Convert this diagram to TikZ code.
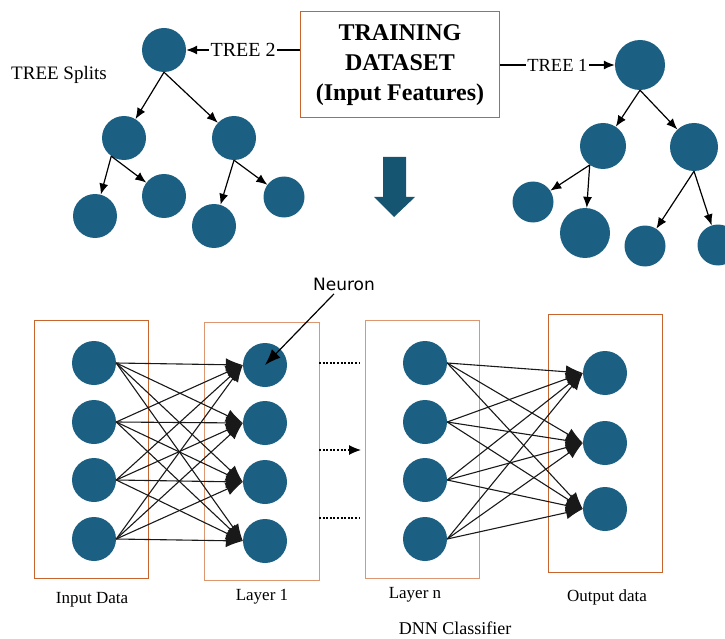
\documentclass[tikz,border=0pt]{standalone}
\usepackage{fontspec}
\setmainfont{Liberation Serif}
\newfontfamily\neuronfont{DejaVu Sans}
\usepackage{xcolor}
\usepackage{tikz}
\usetikzlibrary{arrows.meta, positioning}

\definecolor{nodeblue}{HTML}{1B6082}
\definecolor{arrowblue}{HTML}{165571}
\definecolor{boxorange}{HTML}{C8642E}
\definecolor{boxlight}{HTML}{DC9670}

\begin{document}
\begin{tikzpicture}[x=1pt, y=-1pt, >={Latex[length=11pt,width=9pt]},
    neuron/.style={circle, fill=nodeblue, inner sep=0pt, minimum size=#1},
    neuron/.default=44pt,
    treeline/.style={->, line width=1.2pt},
    conn/.style={-{Latex[length=17pt,width=13pt]}, line width=1.1pt, black!90},
    lbl/.style={font=\fontsize{17}{20}\selectfont},
    dotline/.style={dash pattern=on 2pt off 1.6pt, line width=1.2pt}]
    \useasboundingbox (0,0) rectangle (725,639);

    % Tập dữ liệu huấn luyện
    \node[draw=boxorange, line width=1pt, minimum width=199pt, minimum height=106pt,
          align=center, font=\bfseries\fontsize{24}{30}\selectfont] (data) at (400,65)
          {TRAINING\\DATASET\\(Input Features)};

    % Cây 2 (bên trái)
    \node[neuron] (t2r) at (164,50) {};
    \node[neuron] (t2a) at (124,138) {};
    \node[neuron] (t2b) at (234,138) {};
    \node[neuron] (t2c) at (95,216) {};
    \node[neuron] (t2d) at (164,196) {};
    \node[neuron] (t2e) at (214,226) {};
    \node[neuron=41pt] (t2f) at (284,197) {};
    \draw[treeline] (t2r.south) -- (t2a);
    \draw[treeline] (t2r.south) -- (t2b);
    \draw[treeline] (t2a.-125) -- (t2c);
    \draw[treeline] (t2a.-125) -- (t2d);
    \draw[treeline] (t2b.south) -- (t2e);
    \draw[treeline] (t2b.south) -- (t2f);
    \node[lbl, font=\fontsize{19}{22}\selectfont] (splits) at (59,75) {TREE Splits};
    \draw[treeline] (data.west |- t2r) -- node[fill=white, inner sep=1.5pt, font=\fontsize{20}{22}\selectfont] (tree2) {TREE 2} (t2r);

    % Cây 1 (bên phải)
    \node[neuron=50pt] (t1r) at (640,65) {};
    \node[neuron=46pt] (t1a) at (603,146) {};
    \node[neuron=48pt] (t1b) at (694,147) {};
    \node[neuron=41pt] (t1c) at (533,202) {};
    \node[neuron=50pt] (t1d) at (585,233) {};
    \node[neuron=41pt] (t1e) at (645,246) {};
    \node[neuron=41pt] (t1f) at (718,245) {};
    \draw[treeline] (t1r.south) -- (t1a);
    \draw[treeline] (t1r.south) -- (t1b);
    \draw[treeline] (t1a.-125) -- (t1c);
    \draw[treeline] (t1a.-125) -- (t1d);
    \draw[treeline] (t1b.south) -- (t1e);
    \draw[treeline] (t1b.south) -- (t1f);
    \draw[treeline] (data.east |- t1r) -- node[fill=white, inner sep=1.5pt, font=\fontsize{18.5}{20}\selectfont] (tree1) {TREE 1} (t1r);

    % Mũi tên xuống
    \fill[arrowblue] (383,157) -- (406,157) -- (406,197) -- (415,197) -- (394,217)
        -- (374,197) -- (383,197) -- cycle;

    % Các khung lớp
    \node[draw=boxorange, line width=1pt, minimum width=114pt, minimum height=258pt] (inbox) at (91,449) {};
    \node[draw=boxlight, line width=1pt, minimum width=115pt, minimum height=258pt] (l1box) at (261.5,451) {};
    \node[draw=boxlight, line width=1pt, minimum width=114pt, minimum height=258pt] (lnbox) at (422,449) {};
    \node[draw=boxorange, line width=1pt, minimum width=114pt, minimum height=258pt] (outbox) at (605,443) {};

    % Các nơ-ron
    \foreach \i/\y in {1/363, 2/422, 3/480, 4/539} {
        \node[neuron] (in\i) at (94,\y) {};
        \node[neuron] (ln\i) at (425,\y) {};
    }
    \foreach \i/\y in {1/365, 2/423, 3/482, 4/541}
        \node[neuron] (la\i) at (265,\y) {};
    \foreach \i/\y in {1/373, 2/443, 3/509}
        \node[neuron] (out\i) at (605,\y) {};

    % Kết nối
    \foreach \i in {1,...,4} {
        \foreach \j in {1,...,4}
            \draw[conn] (in\i.east) -- (la\j.west);
        \foreach \j in {1,...,3}
            \draw[conn] (ln\i.east) -- (out\j.west);
    }

    % Các lớp ẩn ở giữa
    \coordinate (d1) at (319,363);
    \coordinate (d2) at (319,450);
    \coordinate (d3) at (319,518);
    \draw[dotline] (d1) -- ++(41,0);
    \draw[dotline, -{Latex[length=12pt,width=10pt]}] (d2) -- ++(42,0);
    \draw[dotline] (d3) -- ++(41,0);

    % Nhãn
    \node[font=\neuronfont\fontsize{17}{20}\selectfont] (neuronlbl) at (344,284) {Neuron};
    \draw[-{Latex[length=16pt,width=12pt]}, line width=1.2pt] ([xshift=-10pt]neuronlbl.south) -- (la1.center);
    \node[lbl] (inlbl) at (92,600) {Input Data};
    \node[lbl] (l1lbl) at (262,597) {Layer 1};
    \node[lbl] (lnlbl) at (415,595) {Layer n};
    \node[lbl] (outlbl) at (607,597) {Output data};
    \node[lbl, font=\fontsize{18}{20}\selectfont] (dnnlbl) at (455,628) {DNN Classifier};
\end{tikzpicture}
\end{document}
